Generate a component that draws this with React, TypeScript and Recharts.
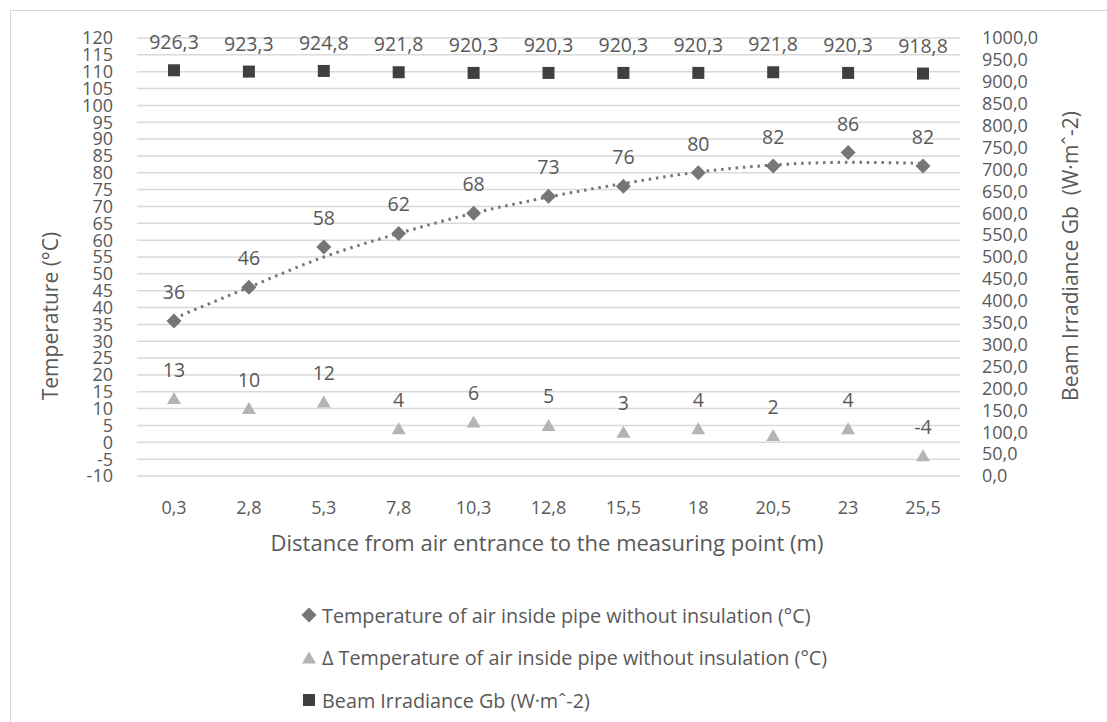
import {
  ComposedChart,
  Line,
  XAxis,
  YAxis,
  CartesianGrid,
  LabelList,
} from 'recharts';

const DISTANCES = ['0,3', '2,8', '5,3', '7,8', '10,3', '12,8', '15,5', '18', '20,5', '23', '25,5'];
const AIR_TEMP = [36, 46, 58, 62, 68, 73, 76, 80, 82, 86, 82];
const DELTA_TEMP = [13, 10, 12, 4, 6, 5, 3, 4, 2, 4, -4];
const BEAM_IRRADIANCE = [926.3, 923.3, 924.8, 921.8, 920.3, 920.3, 920.3, 920.3, 921.8, 920.3, 918.8];
// polynomial trendline of AIR_TEMP
const AIR_TEMP_TREND = [36.8, 46, 55, 62, 68, 72.8, 76.8, 80.2, 82.3, 83.1, 82.8];

const LEFT_TICKS = [-10, -5, 0, 5, 10, 15, 20, 25, 30, 35, 40, 45, 50, 55, 60, 65, 70, 75, 80, 85, 90, 95, 100, 105, 110, 115, 120];
const RIGHT_TICKS = [0, 50, 100, 150, 200, 250, 300, 350, 400, 450, 500, 550, 600, 650, 700, 750, 800, 850, 900, 950, 1000];

const LEGEND = [
  { name: 'Temperature of air inside pipe without insulation (°C)', marker: 'diamond' },
  { name: 'Δ Temperature of air inside pipe without insulation (°C)', marker: 'triangle' },
  { name: 'Beam Irradiance Gb (W·mˆ-2)', marker: 'square' },
];

const TEXT = '#595959';
const GRID = '#d9d9d9';
const DIAMOND = '#767676';
const TRIANGLE = '#b4b4b4';
const SQUARE = '#404040';
const FONT = '"Open Sans", sans-serif';

const data = DISTANCES.map((d, i) => ({
  name: d,
  temp: AIR_TEMP[i],
  delta: DELTA_TEMP[i],
  beam: BEAM_IRRADIANCE[i],
  trend: AIR_TEMP_TREND[i],
}));

const comma = (v: number, digits = 0) => v.toFixed(digits).replace('.', ',');

function Marker({ type, cx, cy }: { type: string; cx: number; cy: number }) {
  if (type === 'diamond') {
    const r = 7.5;
    return <polygon points={`${cx},${cy - r} ${cx + r},${cy} ${cx},${cy + r} ${cx - r},${cy}`} fill={DIAMOND} />;
  }
  if (type === 'triangle') {
    return <polygon points={`${cx},${cy - 6.5} ${cx + 7},${cy + 5.5} ${cx - 7},${cy + 5.5}`} fill={TRIANGLE} />;
  }
  return <rect x={cx - 6} y={cy - 6} width={12} height={12} fill={SQUARE} />;
}

const dotOf = (type: string) => (p: any) => (
  <Marker key={`${type}-${p.index}`} type={type} cx={p.cx} cy={p.cy} />
);

export default function App() {
  const tickStyle = { fontSize: 18, fill: TEXT, fontFamily: FONT };
  const labelStyle = { fontSize: 19.5, fill: TEXT, fontFamily: FONT };

  return (
    <div style={{ position: 'absolute', left: 0, top: 0, width: 1107, height: 722, overflow: 'hidden', background: '#fff', fontFamily: FONT }}>
      <div style={{ position: 'absolute', left: 10, top: 10, width: 1200, height: 800, border: `1px solid ${GRID}` }} />
      <div style={{ position: 'absolute', left: 0, top: 0 }}>
        <ComposedChart width={1107} height={722} data={data} margin={{ top: 38, right: 0, bottom: 186, left: 0 }}>
          <CartesianGrid yAxisId="left" vertical={false} stroke={GRID} strokeWidth={1.5} />
          <XAxis
            dataKey="name"
            height={60}
            padding={{ left: 37, right: 37 }}
            axisLine={false}
            tickLine={false}
            tickSize={0}
            tickMargin={25}
            tick={tickStyle}
            interval={0}
          />
          <YAxis
            yAxisId="left"
            width={137}
            domain={[-10, 120]}
            ticks={LEFT_TICKS}
            interval={0}
            axisLine={false}
            tickLine={false}
            tickSize={0}
            tickMargin={24}
            tick={tickStyle}
          />
          <YAxis
            yAxisId="right"
            orientation="right"
            width={147}
            domain={[0, 1000]}
            ticks={RIGHT_TICKS}
            interval={0}
            axisLine={false}
            tickLine={false}
            tickSize={0}
            tickMargin={22}
            tick={{ ...tickStyle, textAnchor: 'start' }}
            tickFormatter={(v: number) => comma(v, 1)}
          />
          <Line
            yAxisId="left"
            dataKey="trend"
            type="monotone"
            stroke={DIAMOND}
            strokeWidth={3}
            strokeDasharray="2.5 4.8"
            dot={false}
            activeDot={false}
            isAnimationActive={false}
          />
          <Line
            yAxisId="left"
            dataKey="temp"
            stroke="none"
            dot={dotOf('diamond')}
            activeDot={false}
            isAnimationActive={false}
          >
            <LabelList dataKey="temp" position="top" offset={22} style={labelStyle} />
          </Line>
          <Line
            yAxisId="left"
            dataKey="delta"
            stroke="none"
            dot={dotOf('triangle')}
            activeDot={false}
            isAnimationActive={false}
          >
            <LabelList dataKey="delta" position="top" offset={22} style={labelStyle} />
          </Line>
          <Line
            yAxisId="right"
            dataKey="beam"
            stroke="none"
            dot={dotOf('square')}
            activeDot={false}
            isAnimationActive={false}
          >
            <LabelList
              dataKey="beam"
              position="top"
              offset={21}
              style={labelStyle}
              formatter={(v: number) => comma(v, 1)}
            />
          </Line>
        </ComposedChart>
      </div>
      <svg width={1107} height={722} style={{ position: 'absolute', left: 0, top: 0, pointerEvents: 'none' }}>
        <text x={547} y={542} textAnchor="middle" dominantBaseline="central" fontSize={22} fill={TEXT} fontFamily={FONT}>
          Distance from air entrance to the measuring point (m)
        </text>
        <text x={50} y={316} textAnchor="middle" dominantBaseline="central" fontSize={21} fill={TEXT} fontFamily={FONT} transform="rotate(-90 50 316)">
          Temperature (°C)
        </text>
        <text x={1070} y={256} textAnchor="middle" dominantBaseline="central" fontSize={21} fill={TEXT} fontFamily={FONT} transform="rotate(-90 1070 256)" style={{ whiteSpace: 'pre' }}>
          {'Beam Irradiance Gb  (W·mˆ-2)'}
        </text>
      </svg>
      <div style={{ position: 'absolute', left: 300, top: 594 }}>
        {LEGEND.map((item) => (
          <div key={item.name} style={{ display: 'flex', alignItems: 'center', height: 42.5, color: TEXT, fontSize: 19.8 }}>
            <svg width={20} height={20} style={{ marginRight: 2 }}>
              <Marker type={item.marker} cx={9} cy={10} />
            </svg>
            <span>{item.name}</span>
          </div>
        ))}
      </div>
    </div>
  );
}
